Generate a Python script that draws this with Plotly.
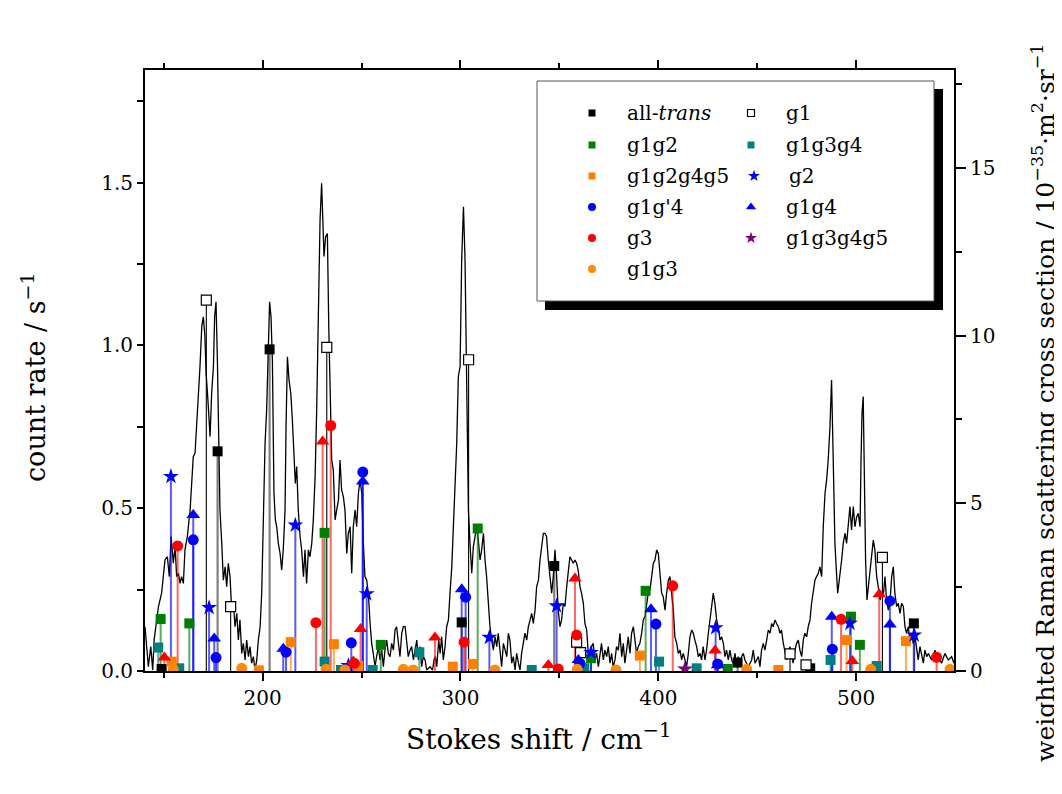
import plotly.graph_objects as go

# ---------------- spectrum (left axis, count rate / s^-1) ----------------
spec_x = [140.5,142.2,143.4,144.4,145.1,147.3,148.9,150.6,151.8,152.8,153.7,154.8,155.7,156.5,157.4,158.2,159.0,159.9,160.7,161.9,
163.3,164.1,164.9,165.8,166.6,167.5,168.3,169.2,170.0,170.8,171.4,172.2,173.4,174.2,175.1,175.7,176.4,177.1,177.8,178.4,
179.3,180.1,181.0,181.8,182.6,183.5,184.3,185.2,186.0,186.9,187.7,188.5,189.4,190.2,191.1,191.9,192.8,193.6,194.4,195.3,
196.1,197.0,197.8,198.7,199.5,200.3,201.2,202.0,202.9,203.5,204.2,204.9,205.7,206.4,207.1,207.9,208.8,209.6,210.4,211.3,
211.8,212.5,213.3,214.2,215.0,215.8,216.5,217.2,218.0,218.9,219.7,220.6,221.4,222.2,223.1,223.9,224.8,225.6,226.5,227.3,
228.1,229.0,229.8,230.3,231.0,231.8,232.7,233.4,234.0,234.9,235.7,236.6,237.4,238.3,239.1,239.9,240.8,241.6,242.5,243.3,
244.2,245.0,245.8,246.7,247.5,248.4,249.2,250.1,250.9,251.7,252.6,253.4,254.3,255.1,255.9,256.8,257.6,258.5,259.3,260.2,
261.0,261.8,262.7,263.5,264.4,265.2,266.1,266.9,267.7,268.6,269.4,270.3,271.1,272.0,272.8,273.6,274.5,275.3,276.2,277.0,
277.9,278.7,279.5,280.4,281.2,282.1,282.9,284.6,285.9,286.6,287.3,288.0,289.0,289.7,290.5,291.3,292.2,293.0,293.9,294.7,
295.6,296.4,297.2,298.1,298.9,299.8,300.6,301.5,302.3,303.1,304.0,304.8,305.7,306.5,307.3,308.2,309.0,309.9,310.7,311.6,
312.4,313.2,314.1,314.9,315.8,316.6,317.5,318.3,319.1,320.0,320.8,321.7,322.5,323.4,324.2,325.0,325.9,326.7,327.6,328.4,
329.3,330.1,330.9,331.8,332.6,333.5,334.3,335.2,336.0,336.8,337.7,338.5,339.4,340.2,341.1,341.9,342.7,343.5,344.4,345.2,
346.1,346.9,347.8,348.6,349.4,350.3,351.1,352.0,352.8,353.7,354.5,355.3,356.2,357.0,357.9,358.7,359.5,360.4,361.2,362.1,
362.9,363.8,364.6,365.5,366.3,367.1,368.0,368.8,369.7,370.5,371.3,372.2,373.0,373.9,374.7,375.6,376.4,377.2,378.1,378.9,
379.8,380.6,381.5,382.3,383.1,384.0,384.8,385.7,386.5,387.4,388.2,389.0,389.9,390.7,391.6,392.4,393.3,394.1,394.9,395.8,
396.6,397.5,398.3,399.2,400.0,400.8,401.7,402.5,403.4,404.2,405.1,405.9,406.7,407.6,408.4,409.3,410.1,411.0,411.8,412.6,
413.5,414.3,415.2,416.0,416.9,417.7,418.5,419.4,420.2,421.1,421.9,422.7,423.6,424.4,425.3,426.1,427.0,427.8,428.6,429.5,
430.3,431.2,432.0,432.9,433.7,434.5,435.4,436.2,437.1,437.9,438.8,439.6,440.4,441.3,442.1,443.0,443.8,445.5,447.2,448.0,
448.9,450.6,451.4,452.2,453.1,453.9,454.8,455.6,456.5,457.3,458.1,459.0,459.8,460.7,461.5,462.3,463.2,464.0,464.9,465.7,
466.6,467.4,468.2,469.1,469.9,470.8,471.6,472.5,473.3,474.1,475.0,475.8,476.7,477.5,478.4,479.2,480.0,480.9,481.7,482.6,
483.4,484.3,485.1,485.9,486.8,487.3,487.6,488.1,488.6,489.3,490.2,490.7,491.3,492.0,492.7,493.5,494.4,495.2,496.1,496.9,
497.7,498.6,499.4,500.3,501.1,502.0,502.5,503.0,503.6,504.1,504.8,505.5,506.2,507.0,507.9,508.7,509.5,510.4,511.2,512.1,
512.9,513.7,514.6,515.4,516.3,517.1,518.0,518.8,519.6,520.5,521.3,522.2,523.0,523.9,524.7,525.5,526.4,527.2,528.1,528.9,
529.8,530.6,531.4,532.3,533.1,534.0,534.8,535.7,536.5,538.2,539.9,540.7,541.6,543.2,544.9,546.6,548.3,549.5]
spec_y = [0.136,0.013,0.075,0.003,0.095,0.198,0.239,0.341,0.351,0.290,0.413,0.331,0.382,0.290,0.300,0.269,0.290,0.269,0.372,0.413,
0.494,0.597,0.658,0.669,0.750,0.853,0.935,1.058,1.088,1.027,0.914,0.843,0.720,0.853,0.935,1.088,1.134,0.955,0.679,0.494,
0.392,0.279,0.320,0.259,0.331,0.290,0.187,0.208,0.136,0.177,0.095,0.157,0.054,0.085,0.034,0.095,0.044,0.075,0.024,0.044,
0.003,0.034,0.095,0.136,0.239,0.494,0.699,0.802,1.058,1.134,1.088,0.955,0.546,0.464,0.443,0.392,0.361,0.310,0.372,0.494,
0.750,0.965,0.894,0.853,0.771,0.669,0.576,0.628,0.494,0.413,0.372,0.290,0.372,0.269,0.372,0.351,0.392,0.464,0.597,0.802,
1.078,1.385,1.498,1.385,1.273,1.334,1.344,1.058,0.894,0.648,0.617,0.464,0.494,0.525,0.648,0.556,0.535,0.494,0.361,0.423,
0.443,0.300,0.443,0.494,0.443,0.546,0.587,0.546,0.392,0.290,0.279,0.239,0.146,0.085,0.054,0.013,0.044,0.075,0.034,0.064,
0.013,0.064,0.095,0.054,0.044,0.085,0.064,0.126,0.136,0.075,0.044,0.116,0.136,0.136,0.085,0.044,0.064,0.075,0.034,0.064,
0.095,0.034,0.075,0.013,0.044,0.034,0.003,0.013,0.003,0.034,0.044,0.013,0.095,0.054,0.105,0.034,0.075,0.136,0.157,0.239,
0.320,0.443,0.546,0.699,0.904,0.935,1.262,1.426,1.262,0.955,0.494,0.392,0.300,0.382,0.413,0.443,0.402,0.341,0.372,0.423,
0.341,0.290,0.208,0.136,0.095,0.064,0.105,0.075,0.116,0.054,0.013,0.085,0.064,0.044,0.116,0.095,0.024,0.044,0.003,0.054,
0.024,0.003,0.054,0.085,0.116,0.095,0.136,0.157,0.177,0.146,0.187,0.259,0.279,0.341,0.392,0.423,0.423,0.413,0.341,0.290,
0.239,0.290,0.372,0.290,0.187,0.136,0.157,0.208,0.198,0.259,0.310,0.351,0.341,0.331,0.341,0.331,0.310,0.259,0.239,0.208,
0.146,0.126,0.054,0.044,0.075,0.085,0.034,0.054,0.013,0.054,0.085,0.034,0.064,0.044,0.075,0.024,0.054,0.013,0.034,0.075,
0.064,0.116,0.044,0.085,0.024,0.064,0.105,0.054,0.116,0.136,0.095,0.054,0.075,0.085,0.116,0.157,0.167,0.208,0.239,0.249,
0.290,0.331,0.341,0.372,0.361,0.290,0.239,0.228,0.187,0.239,0.279,0.290,0.239,0.187,0.105,0.085,0.054,0.064,0.034,0.054,
0.034,0.013,0.054,0.105,0.126,0.116,0.095,0.075,0.044,0.054,0.034,0.075,0.034,0.064,0.116,0.157,0.187,0.239,0.208,0.157,
0.136,0.095,0.105,0.085,0.044,0.064,0.034,0.064,0.034,0.024,0.054,0.013,0.044,0.024,0.044,0.054,0.034,0.013,0.034,0.064,
0.024,0.044,0.013,0.064,0.085,0.064,0.095,0.126,0.116,0.146,0.136,0.157,0.146,0.136,0.116,0.126,0.085,0.064,0.034,0.054,
0.075,0.044,0.024,0.064,0.085,0.095,0.064,0.044,0.095,0.116,0.105,0.136,0.157,0.208,0.239,0.279,0.290,0.300,0.320,0.290,
0.443,0.546,0.587,0.648,0.750,0.853,0.894,0.750,0.546,0.392,0.290,0.239,0.269,0.300,0.341,0.392,0.423,0.392,0.464,0.505,
0.433,0.505,0.443,0.474,0.484,0.443,0.648,0.791,0.843,0.648,0.341,0.218,0.259,0.320,0.361,0.402,0.372,0.290,0.259,0.218,
0.239,0.228,0.290,0.218,0.187,0.208,0.290,0.320,0.239,0.198,0.208,0.177,0.208,0.198,0.136,0.116,0.136,0.095,0.116,0.085,
0.105,0.064,0.034,0.075,0.054,0.024,0.064,0.044,0.054,0.034,0.064,0.034,0.044,0.024,0.054,0.034,0.044,0.024]

# ---------------- conformer lines (right axis, 10^-35 m^2 sr^-1) ----------------
alltrans_x = [148.9, 177.2, 203.5, 300.6, 347.4, 440.1, 476.8, 529.2]
alltrans_v = [0.06, 6.55, 9.59, 1.45, 3.13, 0.25, 0.08, 1.42]
g1_x = [171.5, 183.8, 232.4, 304.1, 358.7, 360.7, 466.6, 474.7, 513.3]
g1_v = [11.06, 1.92, 9.65, 9.28, 0.86, 0.55, 0.51, 0.18, 3.39]
g1g2_x = [148.4, 162.9, 231.3, 259.7, 308.7, 366.0, 393.6, 435.1, 497.4, 501.9]
g1g2_v = [1.55, 1.42, 4.12, 0.78, 4.25, 0.38, 2.39, 0.06, 1.62, 0.78]
g1g3g4_x = [147.2, 157.8, 231.3, 239.6, 255.6, 279.2, 336.0, 362.6, 400.4, 419.4, 487.1, 510.4]
g1g3g4_v = [0.70, 0.08, 0.28, 0.03, 0.03, 0.56, 0.03, 0.08, 0.28, 0.08, 0.33, 0.15]
g1g2g4g5_x = [154.0, 198.1, 214.2, 236.0, 248.3, 296.1, 306.2, 390.7, 460.7, 495.2, 525.2]
g1g2g4g5_v = [0.28, 0.02, 0.86, 0.80, 0.15, 0.13, 0.21, 0.46, 0.03, 0.92, 0.89]
g2_x = [153.6, 172.9, 216.5, 243.3, 252.6, 314.6, 348.6, 366.0, 429.0, 496.9, 529.4]
g2_v = [5.80, 1.89, 4.35, 0.16, 2.30, 1.00, 1.94, 0.55, 1.29, 1.42, 1.07]
g1gp4_x = [164.9, 176.4, 211.8, 244.8, 250.6, 302.6, 360.4, 398.8, 430.0, 488.0, 517.1]
g1gp4_v = [3.91, 0.40, 0.56, 0.84, 5.93, 2.20, 0.23, 1.40, 0.21, 0.65, 2.09]
g1g4_x = [164.9, 175.5, 210.4, 250.6, 300.6, 359.6, 396.3, 430.0, 487.7, 517.1]
g1g4_v = [4.65, 0.97, 0.66, 5.65, 2.44, 0.33, 1.84, 0.17, 1.62, 1.39]
g3_x = [157.0, 226.9, 234.4, 246.3, 301.8, 349.4, 358.7, 407.3, 492.4, 540.7]
g3_v = [3.73, 1.44, 7.32, 0.23, 0.86, 0.06, 1.07, 2.54, 1.54, 0.41]
g1g3g4g5_x = [413.5]
g1g3g4g5_v = [0.06]
g1g3_x = [154.8, 189.4, 232.0, 241.6, 271.1, 276.1, 317.4, 359.0, 378.6, 444.7, 507.4, 547.5]
g1g3_v = [0.05, 0.08, 0.05, 0.03, 0.05, 0.03, 0.03, 0.05, 0.03, 0.05, 0.05, 0.05]
redtri_x = [150.3, 230.3, 245.8, 249.5, 287.1, 344.4, 357.9, 428.7, 498.1, 511.7]
redtri_v = [0.40, 6.84, 0.28, 1.25, 1.00, 0.18, 2.76, 0.61, 0.30, 2.29]

FONT = "DejaVu Serif"

# name, x, v, marker colour, marker symbol, size, stem colour, stem width, in legend
series = [
    ("all-<i>trans</i>", alltrans_x, alltrans_v, "black", "square", 10, "rgba(0,0,0,0.5)", 2.2, True),
    ("g1", g1_x, g1_v, "white", "square", 10, "black", 1.1, True),
    ("g1g2", g1g2_x, g1g2_v, "#008000", "square", 10, "rgba(0,128,0,0.65)", 2, True),
    ("g1g3g4", g1g3g4_x, g1g3g4_v, "#008080", "square", 10, "rgba(0,128,128,0.65)", 2, True),
    ("g1g2g4g5", g1g2g4g5_x, g1g2g4g5_v, "#ff8000", "square", 10, "rgba(255,128,0,0.65)", 2, True),
    ("g2", g2_x, g2_v, "#0000ff", "star", 12, "rgba(0,0,255,0.65)", 2, True),
    ("g1g'4", g1gp4_x, g1gp4_v, "#0000ff", "circle", 11, "rgba(0,0,255,0.65)", 2, True),
    ("g1g4", g1g4_x, g1g4_v, "#0000ff", "triangle-up", 12, "rgba(0,0,255,0.65)", 2, True),
    ("g3", g3_x, g3_v, "#ff0000", "circle", 11, "rgba(255,0,0,0.6)", 2, True),
    ("g1g3g4g5", g1g3g4g5_x, g1g3g4g5_v, "#800080", "star", 12, "rgba(128,0,128,0.65)", 2, True),
    ("g1g3", g1g3_x, g1g3_v, "#ff8c00", "circle", 11, "rgba(255,140,0,0.65)", 2, True),
    ("red-tri", redtri_x, redtri_v, "#ff0000", "triangle-up", 12, "rgba(255,0,0,0.6)", 2, False),
]

fig = go.Figure()

fig.add_trace(go.Scatter(x=spec_x, y=spec_y, mode="lines",
                         line=dict(color="black", width=1.3), showlegend=False, hoverinfo="skip"))

for name, xs, vs, col, sym, sz, scol, sw, _ in series:
    sx, sy = [], []
    for a, b in zip(xs, vs):
        sx += [a, a, None]
        sy += [0, b, None]
    fig.add_trace(go.Scatter(x=sx, y=sy, yaxis="y2", mode="lines",
                             line=dict(color=scol, width=sw), showlegend=False, hoverinfo="skip"))
for name, xs, vs, col, sym, sz, scol, sw, _ in series:
    edge = "black" if col == "white" else col
    fig.add_trace(go.Scatter(x=xs, y=vs, yaxis="y2", mode="markers",
                             marker=dict(color=col, symbol=sym, size=sz,
                                         line=dict(color=edge, width=1.2 if col == "white" else 0)),
                             showlegend=False, name=name))

# ---------------- hand-drawn legend (two columns, drop shadow) ----------------
# plot-area edges in window pixels (page has an 8 px body margin)
L, R, T, B = 145, 954, 70, 671
OFF = 8
def px(x):
    return (x - L) / (R - L)
def py(y):
    return (B - y) / (B - T)

shapes = [
    dict(type="rect", xref="paper", yref="paper", x0=px(545), x1=px(943), y0=py(310), y1=py(89),
         fillcolor="black", line=dict(width=0), layer="below"),
    dict(type="rect", xref="paper", yref="paper", x0=px(537), x1=px(934), y0=py(301), y1=py(81),
         fillcolor="white", line=dict(color="#555555", width=1), layer="below"),
]

leg_items = [s for s in series if s[8]]
col1 = leg_items[0::2]
col2 = leg_items[1::2]
rows = [113, 145, 176, 207, 238, 269]
annotations = []
for col_items, mx, tx in ((col1, 592, 625), (col2, 751, 784)):
    for i, s in enumerate(col_items):
        name, _, _, col, sym, sz, _, _, _ = s
        edge = "black" if col == "white" else col
        fig.add_trace(go.Scatter(x=[mx + (3 if name == "g2" else 0)], y=[rows[i]],
                                 xaxis="x3", yaxis="y3", mode="markers",
                                 marker=dict(color=col, symbol=sym, size=sz - 3,
                                             line=dict(color=edge, width=1.2 if col == "white" else 0)),
                                 showlegend=False, hoverinfo="skip"))
        annotations.append(dict(x=px(tx + (3 if name == "g2" else 0)), y=py(rows[i]), xref="paper", yref="paper",
                                text=name, showarrow=False, xanchor="left", yanchor="middle",
                                font=dict(family=FONT, size=20, color="black")))

# axis titles
annotations += [
    dict(x=px(538), y=py(738), xref="paper", yref="paper", showarrow=False,
         text="Stokes shift / cm<sup>−1</sup>", font=dict(family=FONT, size=28, color="black"),
         xanchor="center", yanchor="middle"),
    dict(x=px(33), y=py(378), xref="paper", yref="paper", showarrow=False, textangle=-90,
         text="count rate / s<sup>−1</sup>", font=dict(family=FONT, size=27, color="black"),
         xanchor="center", yanchor="middle"),
    dict(x=px(1044), y=py(403), xref="paper", yref="paper", showarrow=False, textangle=-90,
         text="weighted Raman scattering cross section / 10<sup>−35</sup>·m<sup>2</sup>·sr<sup>−1</sup>",
         font=dict(family=FONT, size=25, color="black"), xanchor="center", yanchor="middle"),
]

tickfont = dict(family=FONT, size=20, color="black")
W, H = 1062 - OFF, 794 - OFF
fig.update_layout(
    width=W, height=H,
    margin=dict(l=L - OFF, r=W - (R - OFF), t=T - OFF, b=H - (B - OFF), autoexpand=False),
    paper_bgcolor="white", plot_bgcolor="white",
    showlegend=False,
    shapes=shapes, annotations=annotations,
    xaxis=dict(range=[140.5, 549.5], dtick=100, tick0=0, ticks="outside", ticklen=8, tickwidth=2,
               tickcolor="black", showline=True, linecolor="black", linewidth=2, mirror="ticks",
               showgrid=False, zeroline=False, tickfont=tickfont,
               minor=dict(dtick=50, tick0=0, ticks="outside", ticklen=5, tickwidth=2, tickcolor="black")),
    yaxis=dict(range=[0, 1.846], dtick=0.5, tick0=0, tickformat=".1f", ticks="outside", ticklen=6,
               tickwidth=2, tickcolor="black", showline=True, linecolor="black", linewidth=2,
               showgrid=False, zeroline=False, tickfont=tickfont,
               minor=dict(dtick=0.25, tick0=0, ticks="outside", ticklen=6, tickwidth=2, tickcolor="black")),
    yaxis2=dict(range=[0, 17.92], overlaying="y", side="right", dtick=5, tick0=0, ticks="outside",
                ticklen=10, tickwidth=2, tickcolor="black", showline=True, linecolor="black", linewidth=2,
                showgrid=False, zeroline=False, tickfont=tickfont,
                minor=dict(dtick=2.5, tick0=0, ticks="outside", ticklen=6, tickwidth=2, tickcolor="black")),
    xaxis3=dict(range=[L, R], domain=[0, 1], anchor="y3", overlaying="x", visible=False),
    yaxis3=dict(range=[B, T], domain=[0, 1], anchor="x3", overlaying="y", visible=False),
)

fig.write_html("out.html")
